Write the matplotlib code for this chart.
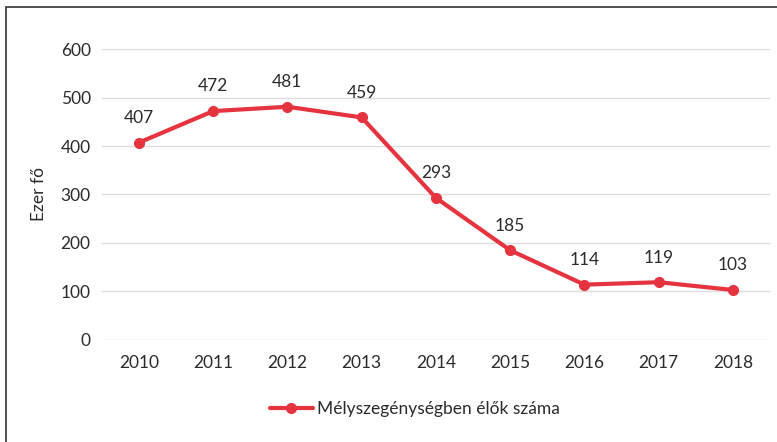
import matplotlib
matplotlib.use("Agg")
import matplotlib.pyplot as plt
from matplotlib.patches import Rectangle

years = ["2010", "2011", "2012", "2013", "2014", "2015", "2016", "2017", "2018"]
values = [407, 472, 481, 459, 293, 185, 114, 119, 103]
series_name = "Mélyszegénységben élők száma"
y_label = "Ezer fő"

plt.rcParams['font.family'] = ['Lato', 'DejaVu Sans']
red = "#E5343F"
txt = "#2b2b2b"
fs = 12.5

fig = plt.figure(figsize=(7.77, 4.42), dpi=100)
ax = fig.add_axes([0.131, 0.231, 0.860, 0.658])

x = list(range(len(years)))
ax.plot(x, values, color=red, lw=3, marker="o", ms=7, label=series_name,
        solid_capstyle="round", zorder=3)
for xi, v in zip(x, values):
    ax.annotate(str(v), (xi, v), xytext=(0, 12), textcoords="offset points",
                ha="center", va="bottom", fontsize=fs, color=txt)

ax.set_xlim(-0.5, len(years) - 0.5)
ax.set_ylim(0, 600)
ax.set_yticks(range(0, 601, 100))
ax.set_xticks(x)
ax.set_xticklabels(years)
ax.grid(axis="y", color="#dddddd", lw=1)
ax.set_axisbelow(True)
for s in ax.spines.values():
    s.set_visible(False)
ax.tick_params(length=0, labelsize=fs, colors=txt)
ax.tick_params(axis="x", pad=11)
ax.tick_params(axis="y", pad=8)
ax.set_ylabel(y_label, fontsize=fs, color=txt, labelpad=10)

leg = ax.legend(loc="upper center", bbox_to_anchor=(0.468, -0.155), frameon=False,
                fontsize=fs, handlelength=2.5, handletextpad=0.2)
for t in leg.get_texts():
    t.set_color(txt)

fig.patches.append(Rectangle((6 / 777, -0.1), 1.2, 1 - 7 / 442 + 0.1,
                             transform=fig.transFigure, fill=False,
                             edgecolor="#333333", lw=1.2))

fig.savefig("out.png", dpi=100)
